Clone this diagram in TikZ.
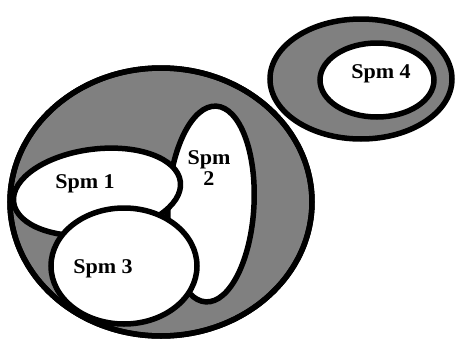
\documentclass[tikz,border=0pt]{standalone}
\usepackage{fontspec}
\setmainfont{Liberation Serif}
\begin{document}
\begin{tikzpicture}[x=1pt,y=-1pt,
  region/.style={draw=black,line width=5.5pt},
  outer/.style={region,fill=shade},
  inner/.style={region,fill=white},
  lbl/.style={font=\fontsize{21}{21}\selectfont\bfseries,text=black,inner sep=0pt,align=center,xscale=1.05}]
\definecolor{shade}{HTML}{808080}
\useasboundingbox (0,0) rectangle (456,338);

% large set with its three subsets
\path[outer] (161,202) ellipse [x radius=151, y radius=134];
\begin{scope}
  \clip (161,202) ellipse [x radius=149, y radius=132];
  \path[inner] (211,204) ellipse [x radius=43, y radius=98, rotate=-3];
  \path[inner] (97,192) ellipse [x radius=84, y radius=43, rotate=7];
  \path[inner] (124,266) ellipse [x radius=73, y radius=58];
\end{scope}
\draw[line width=5.5pt] (161,202) ellipse [x radius=151, y radius=134];

% separate set
\path[outer] (361,79) ellipse [x radius=91, y radius=60];
\path[inner] (377,80) ellipse [x radius=57, y radius=37];

\node[lbl] (s1) at (85,184) {Spm 1};
\node[lbl] (s2) at (209,168) {Spm\\2};
\node[lbl] (s3) at (103,269) {Spm 3};
\node[lbl] (s4) at (381,74) {Spm 4};
\end{tikzpicture}
\end{document}
